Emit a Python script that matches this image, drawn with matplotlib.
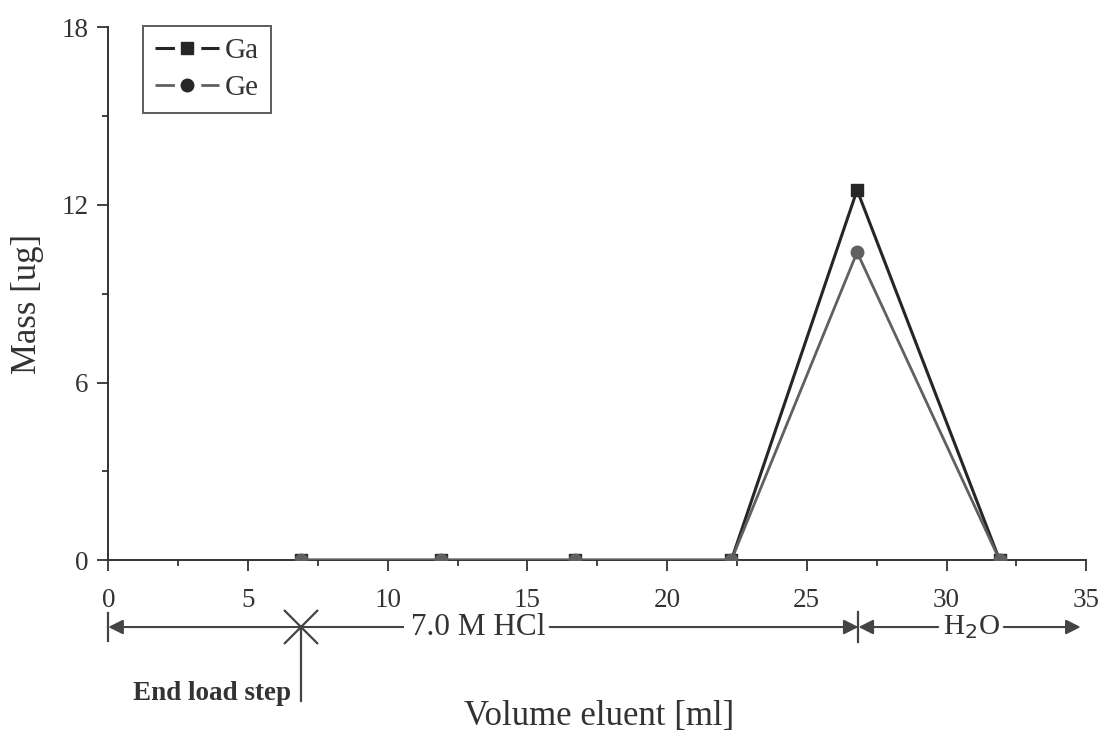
import numpy as np
import matplotlib
matplotlib.use("Agg")
import matplotlib.pyplot as plt
from matplotlib.ticker import MultipleLocator
from matplotlib.lines import Line2D

plt.rcParams['font.family'] = ['Liberation Serif', 'DejaVu Serif']
plt.rcParams['lines.scale_dashes'] = False

# data
volume = [6.9, 11.9, 16.7, 22.3, 26.8, 31.9]
ga = [0.0, 0.0, 0.0, 0.0, 12.5, 0.0]
ge = [0.0, 0.0, 0.0, 0.0, 10.4, 0.0]

end_load = 6.9      # end of load step (ml)
hcl_end = 26.85     # switch to water
x_max = 35

ga_col = '#262626'
ge_col = '#606060'
txt = '#333333'

fig = plt.figure(figsize=(11.05, 7.37), dpi=100)
ax = fig.add_axes([0.098, 0.24, 0.885, 0.723])

ax.plot(volume, ga, '-s', color=ga_col, lw=2.2, ms=8, zorder=3)
ax.plot(volume, ge, '-o', color=ge_col, lw=2.0, ms=9, zorder=3)

ax.set_xlim(0, x_max)
ax.set_ylim(0, 18)
ax.xaxis.set_major_locator(MultipleLocator(5))
ax.xaxis.set_minor_locator(MultipleLocator(2.5))
ax.yaxis.set_major_locator(MultipleLocator(6))
ax.yaxis.set_minor_locator(MultipleLocator(3))
ax.tick_params(which='major', length=8, width=1.3, labelsize=19.5, color=txt, labelcolor=txt, pad=6)
ax.tick_params(which='minor', length=4, width=1.3, color=txt)
ax.tick_params(axis='x', which='major', pad=12)
for s in ['top', 'right']:
    ax.spines[s].set_visible(False)
for s in ['left', 'bottom']:
    ax.spines[s].set_linewidth(1.4)
    ax.spines[s].set_color(txt)

ax.set_ylabel('Mass [ug]', fontsize=25, color=txt)
ax.yaxis.set_label_coords(-0.066, 0.48)
fig.text(0.542, 1 - 716 / 737, 'Volume eluent [ml]', ha='center', va='center', fontsize=25, color=txt)

# legend with a gap in the line around the marker
h_ga = Line2D([], [], color=ga_col, lw=2.2, ls=(0, (14, 19)), marker='s', ms=8)
h_ge = Line2D([], [], color=ge_col, lw=2.0, ls=(0, (14, 19)), marker='o', ms=9, mfc=ga_col, mec=ga_col)
leg = ax.legend([h_ga, h_ge], ['Ga', 'Ge'], loc='upper left', bbox_to_anchor=(0.036, 1.003), fontsize=21,
                frameon=True, fancybox=False, edgecolor=txt, handlelength=2.2, handletextpad=0.2,
                borderpad=0.4, labelspacing=0.37, borderaxespad=0)
leg.get_frame().set_linewidth(1.4)
for t in leg.get_texts():
    t.set_color(txt)

# eluent annotation row below the axis
yr = -2.26
c = '#444444'
ap = dict(arrowstyle='-|>', color=c, lw=1.5, mutation_scale=22, shrinkA=0, shrinkB=0)
ax.annotate('', xy=(0, yr), xytext=(end_load, yr), arrowprops=ap, annotation_clip=False)
ax.plot([0, 0], [yr - 0.47, yr + 0.47], color=c, lw=1.6, clip_on=False)
ax.plot([end_load, 10.55], [yr, yr], color=c, lw=1.5, clip_on=False)
ax.text(13.25, yr, '7.0 M HCl', ha='center', va='center', fontsize=22.5, color=txt)
ax.annotate('', xy=(hcl_end, yr), xytext=(15.8, yr), arrowprops=ap, annotation_clip=False)
ax.plot([hcl_end, hcl_end], [yr - 0.5, yr + 0.5], color=c, lw=1.6, clip_on=False)
ax.annotate('', xy=(hcl_end, yr), xytext=(29.7, yr), arrowprops=ap, annotation_clip=False)
ax.text(30.9, yr, 'H$_2$O', ha='center', va='center', fontsize=21, color=txt)
ax.annotate('', xy=(34.8, yr), xytext=(32.05, yr), arrowprops=ap, annotation_clip=False)

# end of load step marker
ax.plot([end_load], [yr], marker='x', ms=24, mew=1.6, color=c, clip_on=False)
ax.plot([end_load, end_load], [yr, -4.75], color=c, lw=1.6, clip_on=False)
ax.text(end_load - 0.35, -4.5, 'End load step', ha='right', va='center', fontsize=19.5,
        fontweight='bold', color=txt)

fig.savefig('out.png', dpi=100)
